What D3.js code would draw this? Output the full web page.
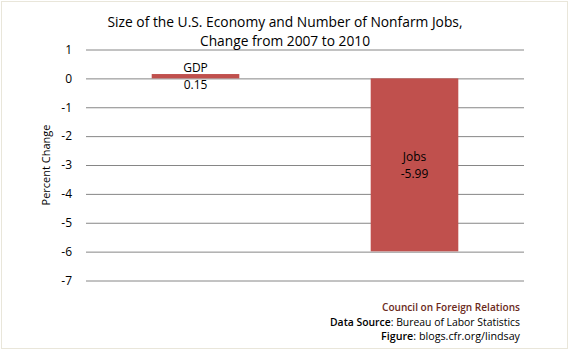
<!DOCTYPE html>
<html><head><meta charset="utf-8">
<script src="https://cdn.jsdelivr.net/npm/d3@7"></script>
<style>body{margin:0;background:#fff}svg{display:block}text{font-family:"Open Sans","Noto Sans",sans-serif}</style>
</head><body>
<svg id="c" width="570" height="352"></svg>
<script>
const categories = ["GDP", "Jobs"];
const values = [0.15, -5.99];
const valueLabels = ["0.15", "-5.99"];
const yTicks = [1, 0, -1, -2, -3, -4, -5, -6, -7];
const titleLines = ["Size of the U.S. Economy and Number of Nonfarm Jobs,", "Change from 2007 to 2010"];
const yTitle = "Percent Change";

const svg = d3.select("#c");
svg.append("rect").attr("x",1.5).attr("y",1.5).attr("width",566).attr("height",347)
  .attr("fill","#fff").attr("stroke","#e9e6da").attr("stroke-width",1);

const x = d3.scaleBand().domain(categories).range([86, 524]).padding(0);
const y = d3.scaleLinear().domain([-7, 1]).range([280.5, 49.5]);

// gridlines
const yAxis = d3.axisLeft(y).tickValues(yTicks).tickSize(-(524-86)).tickPadding(12).tickFormat(d => String(d));
const ga = svg.append("g").attr("transform","translate(86,0)").call(yAxis);
ga.select(".domain").remove();
ga.selectAll(".tick line").attr("stroke","#868686").attr("stroke-width",1);
ga.selectAll(".tick text").attr("font-size",12).attr("fill","#000").attr("x",-14);

// bars
const bw = x.bandwidth()*0.4;
svg.selectAll("rect.bar").data(categories).join("rect").attr("class","bar")
  .attr("x", d => x(d) + x.bandwidth()/2 - bw/2)
  .attr("width", bw)
  .attr("y", (d,i) => y(Math.max(0, values[i])))
  .attr("height", (d,i) => Math.abs(y(values[i]) - y(0)))
  .attr("fill","#c0504d");

// labels
categories.forEach((c,i) => {
  const cx = x(c) + x.bandwidth()/2;
  const cy = (y(values[i]) + y(0))/2;
  svg.append("text").attr("x",cx).attr("y",cy-8).attr("dy","0.35em").attr("text-anchor","middle")
    .attr("font-size",12).attr("fill","#000").text(c);
  svg.append("text").attr("x",cx).attr("y",cy+9).attr("dy","0.35em").attr("text-anchor","middle")
    .attr("font-size",12).attr("fill","#000").text(valueLabels[i]);
});

// title
const tw = [355, 170];
titleLines.forEach((t,i) => {
  const el = svg.append("text").attr("x",285).attr("y", i===0 ? 27 : 46).attr("text-anchor","middle")
    .attr("font-size",14.5).attr("fill","#000").text(t);
  el.attr("textLength", tw[i]).attr("lengthAdjust","spacingAndGlyphs");
});

// y title
svg.append("text").attr("transform","translate(50,165) rotate(-90)").attr("text-anchor","middle")
  .attr("font-size",11).attr("fill","#000").text(yTitle);

// credits
const cr = svg.append("g").attr("font-size",11).attr("text-anchor","end");
cr.append("text").attr("x",520).attr("y",311).attr("fill","#6b2a1c").attr("font-weight",600).text("Council on Foreign Relations")
  .attr("textLength",138).attr("lengthAdjust","spacingAndGlyphs");
const l2 = cr.append("text").attr("x",520).attr("y",326).attr("fill","#000");
l2.append("tspan").attr("font-weight",600).text("Data Source");
l2.append("tspan").text(": Bureau of Labor Statistics");
l2.attr("textLength",190).attr("lengthAdjust","spacingAndGlyphs");
const l3 = cr.append("text").attr("x",520).attr("y",340).attr("fill","#000");
l3.append("tspan").attr("font-weight",600).text("Figure");
l3.append("tspan").text(": blogs.cfr.org/lindsay");
l3.attr("textLength",139).attr("lengthAdjust","spacingAndGlyphs");
</script>
</body></html>
